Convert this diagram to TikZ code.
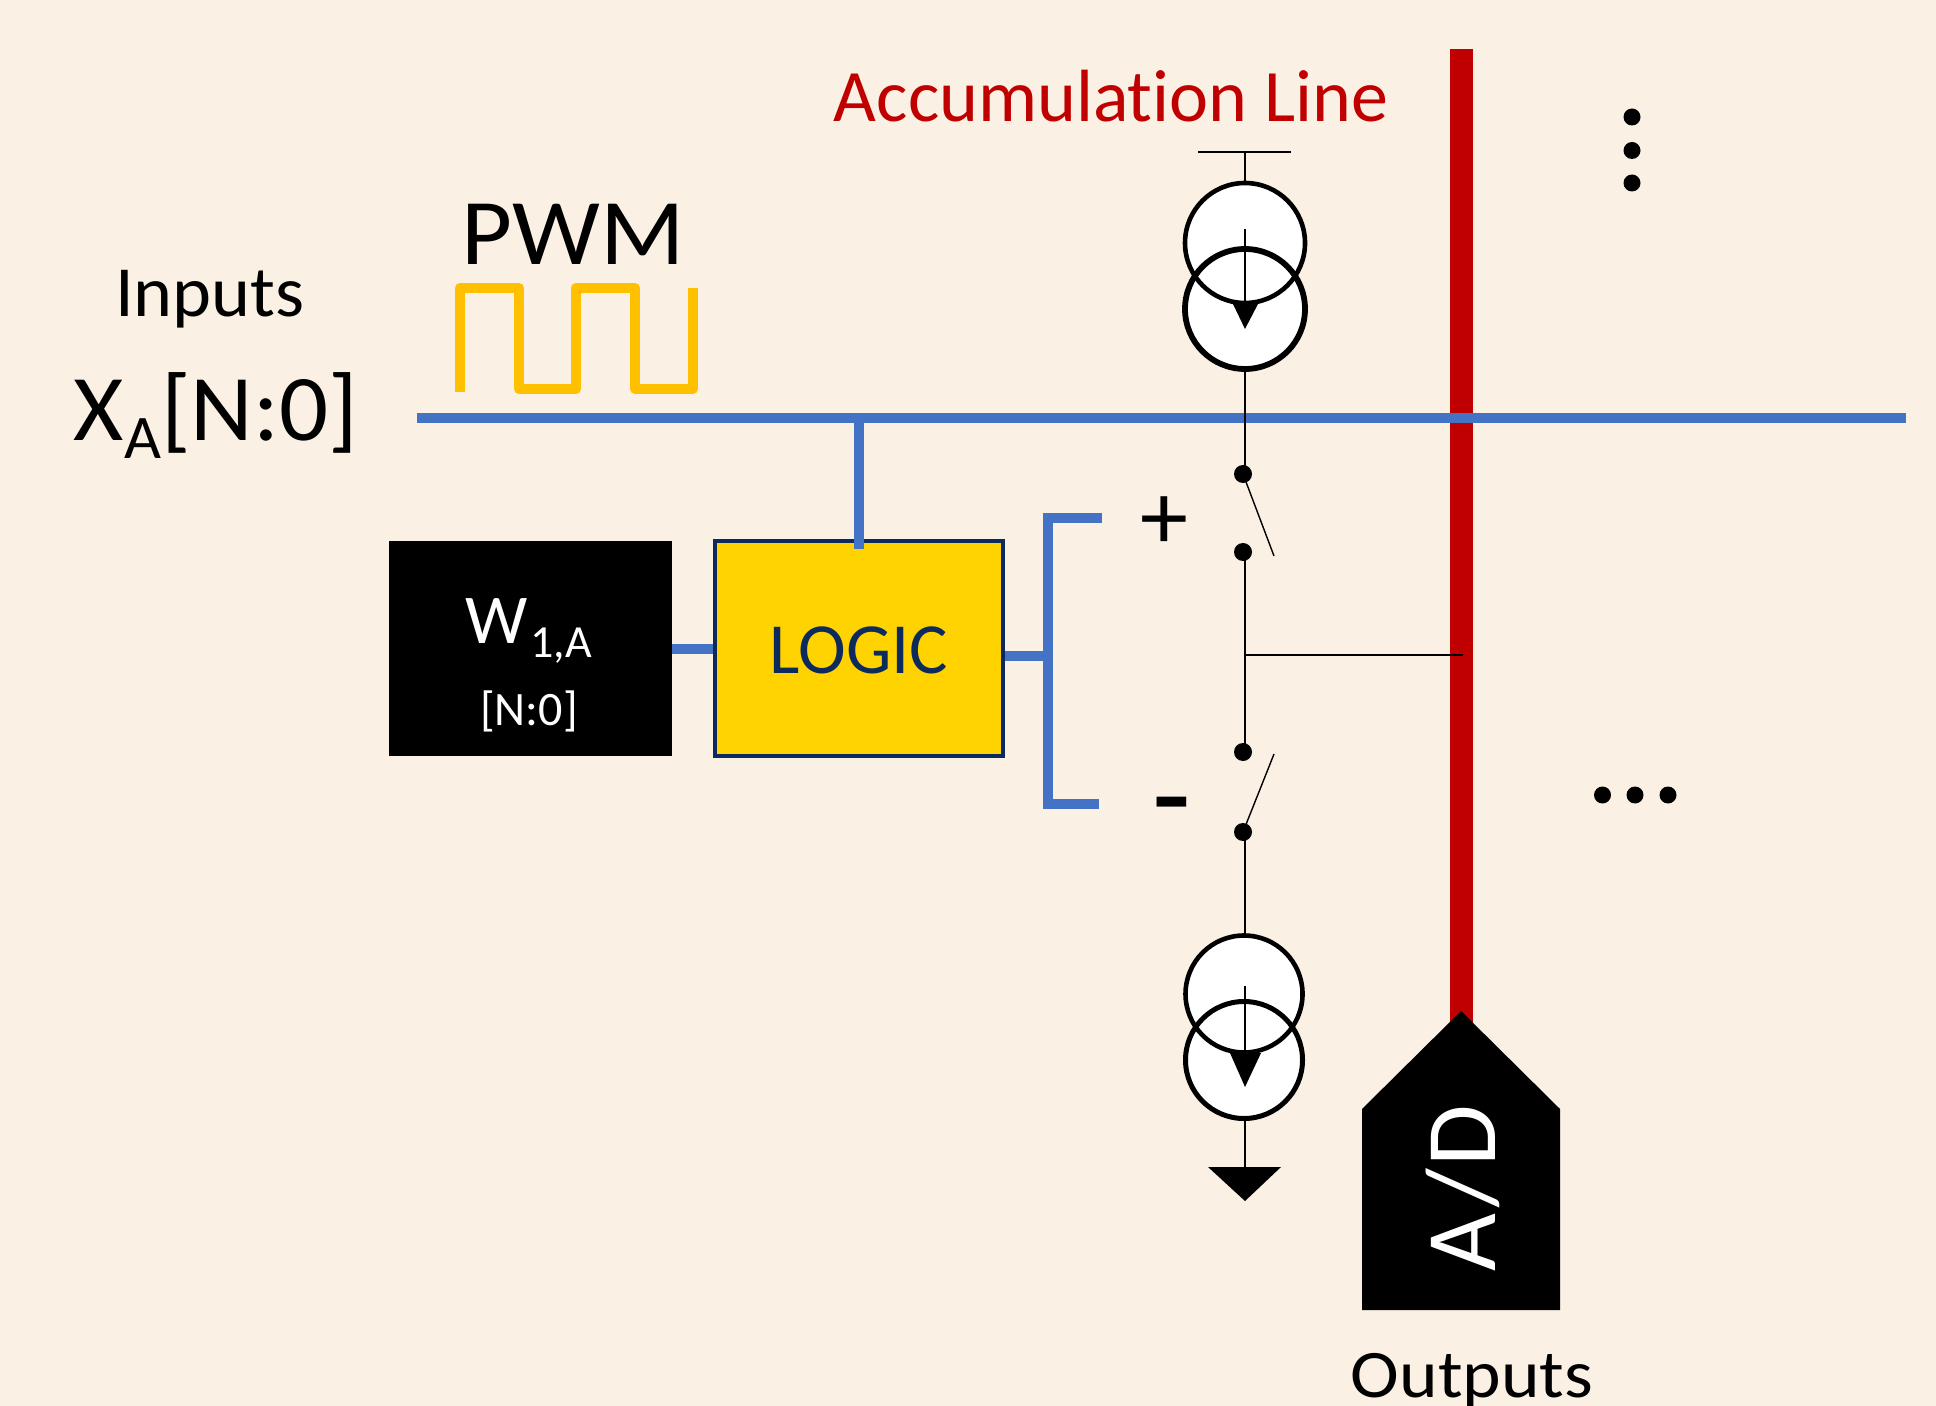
\documentclass[tikz,border=0pt]{standalone}
\usepackage{fontspec}
\setmainfont{Carlito}
\usepackage{graphicx}
\usepackage{tikz}

\definecolor{pagebg}{HTML}{FAF0E4}
\definecolor{busblue}{HTML}{4472C4}
\definecolor{accred}{HTML}{C00000}
\definecolor{pwmgold}{HTML}{FFC000}
\definecolor{logicgold}{HTML}{FFD300}
\definecolor{logicnavy}{HTML}{0C2A5C}

\newcommand{\fsz}[1]{\fontsize{#1}{#1}\selectfont}
\newcommand{\wide}[2]{\scalebox{#1}[1]{#2}}

\tikzset{
    bus/.style={draw=busblue, line width=5pt},
    wire/.style={draw=black, line width=0.9pt},
    ring/.style={circle, minimum size=60pt, inner sep=0pt, fill=white},
    label/.style={anchor=base, inner sep=0pt, text=black},
}

\begin{document}
\begin{tikzpicture}[x=0.5pt, y=-0.5pt]

\fill [pagebg] (0,0) rectangle (1936,1406);
\useasboundingbox (0,0) rectangle (1936,1406);
\clip (0,0) rectangle (1936,1406);

\coordinate (acctop) at (1461,49);
\coordinate (busl) at (417,418);
\coordinate (busr) at (1906,418);
\coordinate (tap) at (859,418);
\coordinate (vddl) at (1198,152);
\coordinate (vddr) at (1291,152);
\coordinate (vdd) at (1245,152);
\coordinate (sw0) at (1243,474);
\coordinate (sw1) at (1243,552);
\coordinate (sw2) at (1243,752);
\coordinate (sw3) at (1243,832);
\coordinate (mid) at (1245,655);
\coordinate (midr) at (1463,655);
\coordinate (gnd) at (1245,1167);
\coordinate (brt) at (1102,518);
\coordinate (brb) at (1099,804);
\coordinate (brm) at (1048,656);

\node [draw=none, fill=black, minimum width=141.5pt, minimum height=107.5pt, inner sep=0pt] (weight) at (530.5,648.5) {};
\node [draw=logicnavy, fill=logicgold, line width=2pt, minimum width=144pt, minimum height=107.5pt, inner sep=0pt] (logic) at (859,648.5) {};

\draw [accred, line width=11.5pt] (acctop) -- (1461,1040);
\fill (1461,1011) -- (1560,1109) -- (1560,1310) -- (1362,1310) -- (1362,1109) -- cycle;

\draw [bus] (busl) -- (busr);
\draw [bus] (tap) -- (859,549);
\draw [bus] (weight.east |- 0,648.5) -- (logic.west |- 0,648.5);
\draw [bus] (logic.east |- brm) -- (brm);
\draw [bus] (brt) -- (brm |- brt) -- (brm |- brb) -- (brb);

\draw [pwmgold, line width=5pt, line join=round] (460,392) -- (460,288) -- (519,288) -- (519,389) -- (576,389) -- (576,288) -- (635,288) -- (635,389) -- (693,389) -- (693,288);

\node [ring] (srca) at (1245,243) {};
\node [ring] (srcb) at (1245,309) {};
\node [ring, minimum size=58.5pt] (srcc) at (1244,994) {};
\node [ring, minimum size=58.5pt] (srcd) at (1244,1060) {};

\draw [line width=2.3pt] (srca) circle (60);
\draw [line width=2.9pt] (srcb) circle (60);
\draw [line width=2.3pt] (srcc) circle (58.5);
\draw [line width=2.5pt] (srcd) circle (58.5);

\draw [wire] (vddl) -- (vddr);
\draw [wire] (vdd) -- (vdd |- srca.north);
\draw [wire] (1245,229) -- (1245,305);
\fill (1232,302) -- (1259,302) -- (1245,329) -- cycle;
\draw [wire] (1245,369) -- (1245,474);
\draw [wire] (1245,552) -- (1245,752);
\draw [wire] (1245,832) -- (1245,935);
\draw [wire] (1245,986) -- (1245,1055);
\fill (1230,1053) -- (1261,1053) -- (1245,1087) -- cycle;
\draw [wire, line width=1.4pt] (1245,1119) -- (gnd);
\fill (1208,1167) -- (1281,1167) -- (1245,1201) -- cycle;
\draw [wire, line width=0.6pt] (mid) -- (midr);

\foreach \i in {sw0,sw1,sw2,sw3}
    \fill (\i) circle (9);
\draw [wire, line width=0.7pt] (sw0) -- (1274,556);
\draw [wire, line width=0.7pt] (sw3) -- (1274,754);

\foreach \i in {117,150.5,183}
    \fill (1632,\i) circle (8.5);
\foreach \i in {1602.5,1635,1668}
    \fill (\i,795) circle (8.5);

\node [label, text=accred] (acclabel) at (1111,122) {\fsz{37}Accumulat\kern0pt ion Line};
\node [label] (pwmlabel) at (573,265) {\fsz{47}\wide{1.05}{PWM}};
\node [label] (inlabel) at (210,317) {\fsz{36}\wide{1.03}{Inputs}};
\node [label] (xlabel) at (216,441) {\fsz{47}\wide{1.03}{X\raisebox{-9pt}{\fsz{31}A}[N:0]}};
\node [label, text=white] (wlabel) at (529,643) {\fsz{35}W\raisebox{-7pt}{\fsz{23}\kern1pt 1,A}};
\node [label, text=white] (nlabel) at (529,725) {\fsz{24}[N:0]};
\node [label, text=logicnavy] (logiclabel) at (859,673) {\fsz{36}LOGIC};
\node [label] (pluslabel) at (1164,549) {\fsz{48}+};
\node [label] (minuslabel) at (1172,829) {\fsz{48}\wide{1.25}{\textbf{-}}};
\node [label, text=white, rotate=90, anchor=center] (adlabel) at (1463,1188) {\fsz{50}A\kern3pt/\kern1pt D};
\node [label] (outlabel) at (1472,1397) {\fsz{34}\wide{1.08}{Outputs}};

\end{tikzpicture}
\end{document}
